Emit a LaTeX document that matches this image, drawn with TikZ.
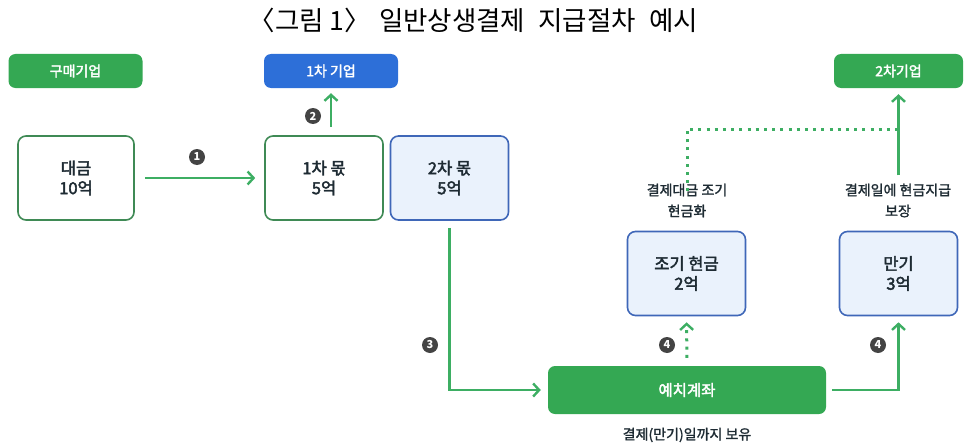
\documentclass[tikz,border=0pt]{standalone}
\usepackage{fontspec}
\setmainfont{Noto Sans CJK KR}
\newfontfamily\medfont[FakeBold=2.5]{Noto Sans CJK KR}
\newfontfamily\semifont[FakeBold=1.5]{Noto Sans CJK KR}
\usetikzlibrary{arrows.meta}
\definecolor{gfill}{HTML}{34A853}
\definecolor{gline}{HTML}{3DAE63}
\definecolor{gborder}{HTML}{3F8A55}
\definecolor{bfill}{HTML}{2D6FD8}
\definecolor{lbfill}{HTML}{EAF2FC}
\definecolor{bborder}{HTML}{3F67B8}
\definecolor{txt}{HTML}{1E2B33}
\definecolor{numc}{HTML}{444444}
\tikzset{
  header/.style={rounded corners=7pt, minimum width=134pt, minimum height=34pt, text=white, font=\fontsize{14}{16}\medfont, inner sep=0pt},
  gbox/.style={rounded corners=8pt, draw=gborder, line width=1.6pt, fill=white, minimum width=116pt, minimum height=84pt, text=txt, align=center, font=\fontsize{16.5}{20}\medfont, inner sep=0pt},
  bbox/.style={rounded corners=8pt, draw=bborder, line width=1.6pt, fill=lbfill, minimum width=118pt, minimum height=84pt, text=txt, align=center, font=\fontsize{16.5}{20}\medfont, inner sep=0pt},
  tip/.style={-{Straight Barb[length=6pt,width=13pt,line width=2.4pt]}},
  flow/.style={draw=gline, line width=2.4pt, tip},
  dflow/.style={draw=gline, line width=3pt, dash pattern=on 3pt off 5.2pt},
  num/.style={circle, fill=numc, text=white, inner sep=0pt, minimum size=16pt, font=\fontsize{11}{11}\selectfont\bfseries},
  lbl/.style={text=txt, align=center, font=\fontsize{14}{21}\semifont, inner sep=0pt}
}
\begin{document}
\begin{tikzpicture}[x=1pt,y=-1pt]
\useasboundingbox (0,0) rectangle (966,444);
\node[font=\fontsize{26.5}{28}\selectfont, text=black] (title) at (480,20) {\hspace{-0.5em}〈그림 1〉\hspace{0.3em}일반상생결제\hspace{0.5em}지급절차\hspace{0.5em}예시};
% headers
\node[header, fill=gfill] (buyer) at (75.5,71) {구매기업};
\node[header, fill=bfill] (firm1) at (331,71) {1차 기업};
\node[header, fill=gfill, minimum width=129pt] (firm2) at (898.5,71) {2차기업};
% boxes
\node[gbox] (amt) at (76,178) {대금\\10억};
\node[gbox, minimum width=118pt] (share1) at (324,178) {1차 몫\\5억};
\node[bbox] (share2) at (449.5,178) {2차 몫\\5억};
\node[bbox] (early) at (686.5,273.5) {조기 현금\\2억};
\node[bbox] (mat) at (898.5,273.5) {만기\\3억};
\node[rounded corners=7pt, fill=gfill, minimum width=278pt, minimum height=48pt, text=white, font=\fontsize{15.5}{17}\medfont, inner sep=0pt] (dep) at (687,390) {예치계좌};
% labels
\node[lbl] (earlylbl) at (687,200.5) {결제대금 조기\\현금화};
\node[lbl] (matlbl) at (898,200.5) {결제일에 현금지급\\보장};
\node[lbl] (holdlbl) at (687,435) {결제(만기)일까지 보유};
% arrows
\draw[flow, shorten <=10pt, shorten >=9pt] (amt.east) -- (share1.west);
\node[num] (n1) at (197,157) {1};
\draw[flow, shorten <=8pt, shorten >=5pt] (firm1.south |- share1.north) -- (firm1.south);
\node[num] (n2) at (313,116) {2};
\draw[flow, shorten <=7pt, shorten >=7pt] (share2.south) |- (dep.west);
\node[num] (n3) at (430,345) {3};
\draw[dflow, tip, shorten <=8pt, shorten >=6pt] (dep.north) -- (early.south);
\node[num] (n4a) at (667,345) {4};
\draw[flow, shorten <=6pt, shorten >=6pt] (dep.east) -| (mat.south);
\node[num] (n4b) at (878,345) {4};
\draw[dflow] ([yshift=-8pt]earlylbl.north) -- (earlylbl.north |- 0,129) -- (firm2.south |- 0,129);
\draw[flow, shorten <=8pt, shorten >=6pt] (matlbl.north -| firm2.south) -- (firm2.south);
\end{tikzpicture}
\end{document}
